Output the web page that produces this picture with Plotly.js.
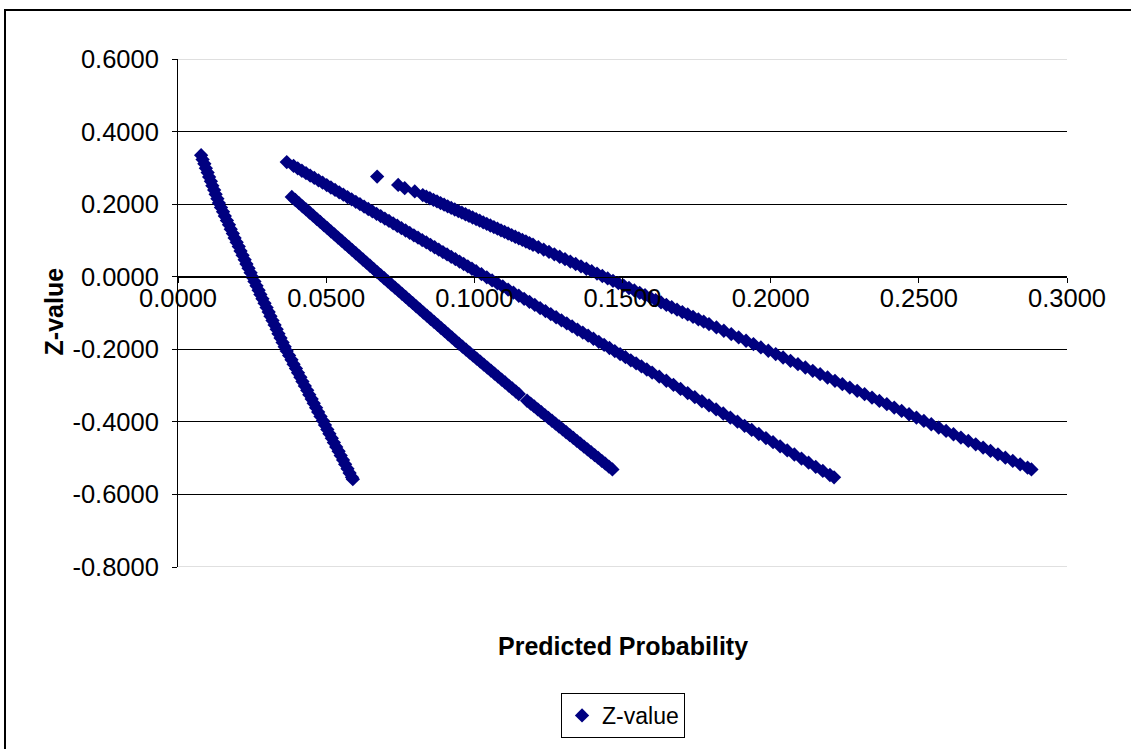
<!DOCTYPE html>
<html>
<head>
<meta charset="utf-8">
<script src="https://cdn.plot.ly/plotly-3.0.1.min.js"></script>
<style>
  html, body { margin: 0; padding: 0; background: #fff; }
  #chart { width: 1131px; height: 749px; }
</style>
</head>
<body>
<div id="chart"></div>
<script>
// Predicted probability (x) and Z-value (y) for the four groups of observations
const group1Prob = [
  0.0078,0.0083,0.0089,0.0094,0.0100,0.0105,0.0111,0.0116,0.0122,0.0127,0.0133,0.0138,
  0.0145,0.0152,0.0158,0.0165,0.0172,0.0178,0.0185,0.0191,0.0198,0.0205,0.0211,0.0218,0.0225,0.0231,0.0238,0.0245,
  0.0251,0.0258,0.0265,0.0272,0.0278,0.0285,0.0292,0.0299,0.0306,0.0312,0.0319,0.0326,0.0333,0.0339,0.0346,0.0353,0.0360,
  0.0367,0.0375,0.0383,0.0390,0.0398,0.0405,0.0413,0.0420,0.0428,0.0436,0.0443,0.0451,0.0458,0.0466,0.0473,0.0481,
  0.0489,0.0496,0.0504,0.0511,0.0519,0.0526,0.0534,0.0542,0.0549,0.0557,0.0564,0.0572,0.0579,0.0587,0.0590
];
const group1Z = [
  0.335,0.323,0.311,0.299,0.287,0.275,0.263,0.251,0.239,0.227,0.215,0.203,
  0.191,0.179,0.167,0.155,0.143,0.131,0.119,0.107,0.095,0.083,0.071,0.059,0.047,0.035,0.023,0.011,
  -0.001,-0.013,-0.025,-0.037,-0.049,-0.061,-0.073,-0.085,-0.097,-0.109,-0.121,-0.133,-0.145,-0.157,-0.169,-0.181,-0.193,
  -0.205,-0.217,-0.229,-0.241,-0.253,-0.265,-0.277,-0.289,-0.301,-0.313,-0.325,-0.337,-0.349,-0.361,-0.373,-0.385,
  -0.397,-0.409,-0.421,-0.433,-0.445,-0.457,-0.469,-0.481,-0.493,-0.505,-0.517,-0.529,-0.541,-0.553,-0.558
];

const group2Prob = [
  0.0384,0.0396,0.0408,0.0420,0.0432,0.0444,0.0456,0.0468,0.0480,0.0492,0.0504,0.0516,0.0528,0.0540,0.0552,0.0564,
  0.0576,0.0588,0.0600,0.0612,0.0624,0.0636,0.0648,0.0660,0.0672,0.0684,
  0.0696,0.0708,0.0720,0.0732,0.0744,0.0756,0.0768,0.0780,0.0792,0.0804,0.0816,0.0828,0.0840,0.0852,0.0864,0.0876,
  0.0888,0.0900,0.0912,0.0924,0.0936,0.0948,
  0.0960,0.0972,0.0984,0.0996,0.1008,0.1020,0.1032,0.1044,0.1056,0.1068,0.1080,0.1092,0.1104,0.1116,0.1128,0.1140,0.1150,
  0.1178,0.1190,0.1202,0.1214,0.1226,0.1238,0.1250,0.1262,0.1274,0.1286,0.1298,0.1310,0.1322,0.1334,0.1346,0.1358,
  0.1370,0.1382,0.1394,0.1406,0.1418,0.1430,0.1442,0.1454,0.1466
];
const group2Z = [
  0.2200,0.2114,0.2027,0.1941,0.1855,0.1769,0.1682,0.1596,0.1510,0.1423,0.1337,0.1251,0.1165,0.1078,0.0992,0.0906,
  0.0820,0.0733,0.0647,0.0561,0.0474,0.0388,0.0302,0.0216,0.0129,0.0043,
  -0.0043,-0.0129,-0.0215,-0.0300,-0.0386,-0.0472,-0.0558,-0.0644,-0.0729,-0.0815,-0.0901,-0.0987,-0.1073,-0.1158,-0.1244,-0.1330,
  -0.1416,-0.1502,-0.1587,-0.1673,-0.1759,-0.1845,
  -0.1929,-0.2011,-0.2093,-0.2176,-0.2258,-0.2340,-0.2423,-0.2505,-0.2587,-0.2669,-0.2752,-0.2834,-0.2916,-0.2999,-0.3081,-0.3163,-0.3232,
  -0.3418,-0.3497,-0.3576,-0.3655,-0.3734,-0.3812,-0.3891,-0.3970,-0.4049,-0.4128,-0.4207,-0.4286,-0.4364,-0.4443,-0.4522,-0.4601,
  -0.4680,-0.4759,-0.4837,-0.4916,-0.4995,-0.5074,-0.5153,-0.5232,-0.5310
];

const group3Prob = [
  0.0367,0.0390,0.0404,0.0418,0.0432,0.0446,0.0460,0.0474,0.0488,0.0502,0.0516,0.0530,0.0544,0.0558,0.0572,0.0586,
  0.0600,0.0614,0.0628,0.0642,0.0656,0.0670,0.0684,0.0698,0.0712,0.0726,0.0740,0.0754,0.0768,0.0782,0.0796,0.0810,
  0.0824,0.0838,0.0852,0.0866,0.0880,0.0894,0.0908,0.0922,0.0936,0.0950,0.0964,0.0978,0.0992,0.1006,
  0.1024,0.1042,0.1060,0.1078,0.1096,0.1114,0.1132,0.1150,0.1168,0.1186,0.1204,0.1222,0.1240,0.1258,0.1276,0.1294,
  0.1312,0.1330,0.1348,0.1366,0.1384,0.1402,0.1420,0.1438,0.1456,0.1474,0.1492,0.1510,0.1528,0.1546,0.1564,0.1582,0.1600,
  0.1624,0.1648,0.1672,0.1696,0.1720,0.1744,0.1768,0.1792,0.1816,0.1840,0.1864,0.1888,0.1912,0.1936,0.1960,0.1984,
  0.2008,0.2032,0.2056,0.2080,0.2104,0.2128,0.2152,0.2176,0.2200,0.2214
];
const group3Z = [
  0.3160,0.3052,0.2986,0.2920,0.2854,0.2788,0.2722,0.2657,0.2591,0.2525,0.2459,0.2393,0.2327,0.2261,0.2195,0.2130,
  0.2064,0.1998,0.1932,0.1866,0.1800,0.1734,0.1669,0.1603,0.1537,0.1471,0.1405,0.1339,0.1273,0.1207,0.1142,0.1076,
  0.1010,0.0944,0.0878,0.0812,0.0746,0.0680,0.0615,0.0549,0.0483,0.0417,0.0351,0.0285,0.0219,0.0154,
  0.0069,-0.0016,-0.0101,-0.0185,-0.0270,-0.0355,-0.0439,-0.0524,-0.0609,-0.0693,-0.0778,-0.0863,-0.0947,-0.1032,-0.1117,-0.1202,
  -0.1286,-0.1371,-0.1456,-0.1540,-0.1625,-0.1710,-0.1794,-0.1879,-0.1964,-0.2048,-0.2133,-0.2218,-0.2303,-0.2387,-0.2472,-0.2557,-0.2641,
  -0.2754,-0.2867,-0.2980,-0.3093,-0.3206,-0.3319,-0.3432,-0.3545,-0.3657,-0.3770,-0.3883,-0.3996,-0.4109,-0.4222,-0.4335,-0.4448,
  -0.4561,-0.4674,-0.4787,-0.4900,-0.5013,-0.5126,-0.5238,-0.5351,-0.5464,-0.5530
];

const group4Prob = [
  0.0672,0.0743,0.0765,0.0799,
  0.0826,0.0838,0.0850,0.0862,0.0874,0.0886,0.0898,0.0910,0.0922,0.0934,0.0946,0.0958,0.0970,0.0982,0.0994,0.1006,
  0.1018,0.1030,0.1042,0.1054,0.1066,0.1078,0.1090,0.1102,0.1114,0.1126,0.1138,0.1150,0.1162,0.1174,0.1186,0.1198,
  0.1216,0.1234,0.1252,0.1270,0.1288,0.1306,0.1324,0.1342,0.1360,0.1378,0.1396,0.1414,0.1432,0.1450,0.1468,0.1486,
  0.1504,0.1522,0.1540,0.1558,0.1576,0.1594,0.1612,0.1630,0.1648,0.1666,0.1684,0.1702,0.1720,0.1738,0.1756,0.1774,0.1792,
  0.1817,0.1842,0.1867,0.1892,0.1917,0.1942,0.1967,0.1992,0.2017,0.2042,0.2067,0.2092,0.2117,0.2142,0.2167,0.2192,
  0.2217,0.2242,0.2267,0.2292,0.2317,0.2342,0.2367,0.2392,0.2417,0.2442,0.2467,0.2492,0.2517,0.2542,0.2567,0.2592,
  0.2617,0.2642,0.2667,0.2692,0.2717,0.2742,0.2767,0.2792,0.2817,0.2842,0.2867,0.2880
];
const group4Z = [
  0.2760,0.2530,0.2440,0.2350,
  0.2251,0.2206,0.2162,0.2118,0.2074,0.2030,0.1986,0.1941,0.1897,0.1853,0.1809,0.1765,0.1721,0.1676,0.1632,0.1588,
  0.1544,0.1500,0.1456,0.1411,0.1367,0.1323,0.1279,0.1235,0.1191,0.1146,0.1102,0.1058,0.1014,0.0970,0.0925,0.0881,
  0.0815,0.0749,0.0683,0.0616,0.0550,0.0484,0.0418,0.0351,0.0285,0.0219,0.0152,0.0086,0.0020,-0.0046,-0.0113,-0.0179,
  -0.0245,-0.0311,-0.0378,-0.0444,-0.0510,-0.0576,-0.0643,-0.0709,-0.0775,-0.0841,-0.0908,-0.0974,-0.1040,-0.1106,-0.1173,-0.1239,-0.1305,
  -0.1397,-0.1489,-0.1581,-0.1673,-0.1765,-0.1857,-0.1949,-0.2041,-0.2133,-0.2226,-0.2318,-0.2410,-0.2502,-0.2594,-0.2686,-0.2778,
  -0.2870,-0.2962,-0.3054,-0.3146,-0.3238,-0.3330,-0.3422,-0.3514,-0.3606,-0.3698,-0.3790,-0.3882,-0.3974,-0.4066,-0.4158,-0.4250,
  -0.4342,-0.4434,-0.4526,-0.4618,-0.4710,-0.4802,-0.4894,-0.4986,-0.5078,-0.5170,-0.5262,-0.5310
];

// Axis ticks
const xTickVals = [0, 0.05, 0.1, 0.15, 0.2, 0.25, 0.3];
const xTickText = ['0.0000', '0.0500', '0.1000', '0.1500', '0.2000', '0.2500', '0.3000'];
const yTickVals = [-0.8, -0.6, -0.4, -0.2, 0, 0.2, 0.4, 0.6];
const yTickText = ['-0.8000', '-0.6000', '-0.4000', '-0.2000', '0.0000', '0.2000', '0.4000', '0.6000'];

const FONT = 'Liberation Sans, Arial, Helvetica, sans-serif';
const NAVY = '#000080';

const predicted = [].concat(group1Prob, group2Prob, group3Prob, group4Prob);
const zValue = [].concat(group1Z, group2Z, group3Z, group4Z);

const traces = [{
  type: 'scatter',
  mode: 'markers',
  name: 'Z-value',
  x: predicted,
  y: zValue,
  marker: { symbol: 'diamond', size: 11, color: NAVY, line: { width: 0 } },
  hoverinfo: 'x+y'
}];

const yMin = -0.8, yMax = 0.6;

const layout = {
  width: 1131,
  height: 749,
  margin: { l: 178, r: 64, t: 59, b: 181, pad: 0 },
  paper_bgcolor: '#ffffff',
  plot_bgcolor: '#ffffff',
  font: { family: FONT, color: '#000' },
  showlegend: true,
  xaxis: {
    range: [0, 0.3],
    anchor: 'free',
    position: (0 - yMin) / (yMax - yMin),
    tickmode: 'array',
    tickvals: xTickVals,
    ticktext: xTickText,
    ticks: 'outside',
    ticklen: 5,
    tickwidth: 1,
    tickcolor: '#000',
    showline: true,
    linecolor: '#000',
    linewidth: 1,
    showgrid: false,
    zeroline: false,
    ticklabelstandoff: -6,
    tickfont: { family: FONT, size: 25.5, color: '#000' },
    fixedrange: true
  },
  yaxis: {
    range: [yMin, yMax],
    tickmode: 'array',
    tickvals: yTickVals,
    ticktext: yTickText,
    ticks: 'outside',
    ticklen: 5,
    tickwidth: 1,
    tickcolor: '#000',
    showline: true,
    linecolor: '#000',
    linewidth: 1,
    showgrid: true,
    gridcolor: '#000',
    gridwidth: 1,
    zeroline: false,
    ticklabelstandoff: 8,
    tickfont: { family: FONT, size: 25.5, color: '#000' },
    fixedrange: true
  },
  legend: {
    x: 0.5006,
    xanchor: 'center',
    y: -0.2456,
    yanchor: 'top',
    bordercolor: '#000',
    borderwidth: 1,
    bgcolor: '#fff',
    font: { family: FONT, size: 23, color: '#000' }
  },
  annotations: [
    {
      text: '<b>Predicted Probability</b>',
      xref: 'paper', yref: 'paper',
      x: 0.5, y: -0.155,
      xanchor: 'center', yanchor: 'middle',
      showarrow: false,
      font: { family: FONT, size: 25, color: '#000' }
    },
    {
      text: '<b>Z-value</b>',
      xref: 'paper', yref: 'paper',
      x: -0.1384, y: 0.503,
      xanchor: 'center', yanchor: 'middle',
      textangle: -90,
      showarrow: false,
      font: { family: FONT, size: 25, color: '#000' }
    }
  ],
  shapes: [
    // plot-area top and bottom edges in light grey
    { type: 'line', xref: 'x', yref: 'y', x0: 0, x1: 0.3, y0: yMax, y1: yMax,
      line: { color: '#c0c0c0', width: 1 }, layer: 'above' },
    { type: 'line', xref: 'x', yref: 'y', x0: 0, x1: 0.3, y0: yMin, y1: yMin,
      line: { color: '#c0c0c0', width: 1 }, layer: 'above' },
    // chart-area frame
    { type: 'path', xref: 'paper', yref: 'paper',
      path: 'M -0.1946,-0.40 L -0.1946,1.0963 L 1.10,1.0963',
      line: { color: '#000', width: 2 } }
  ]
};

Plotly.newPlot('chart', traces, layout, { displayModeBar: false, staticPlot: true });
</script>
</body>
</html>
